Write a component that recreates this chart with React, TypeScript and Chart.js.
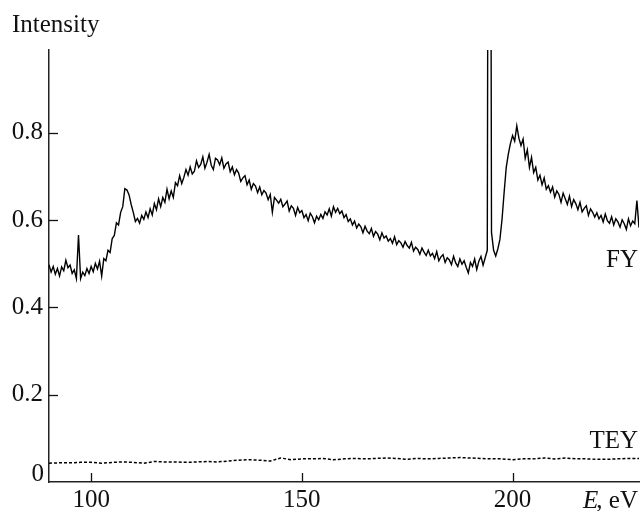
import React, { useEffect, useRef } from "react";
import { Chart, registerables } from "chart.js";

Chart.register(...registerables);

// Energy grid of the FY spectrum (eV)
const FY_START = 90;
const FY_STEP = 0.5;

// FY (fluorescence yield) intensities, one per FY_STEP starting at FY_START
const FY_VALUES = [
  0.498, 0.481, 0.494, 0.476, 0.489, 0.472, 0.493, 0.484, 0.508, 0.491, // 90-94.5
  0.497, 0.478, 0.486, 0.466, 0.566, 0.466, 0.481, 0.473, 0.489, 0.478, // 95-99.5
  0.494, 0.482, 0.501, 0.488, 0.506, 0.472, 0.512, 0.507, 0.531, 0.526, // 100-104.5
  0.558, 0.565, 0.594, 0.589, 0.618, 0.631, 0.672, 0.669, 0.658, 0.636, // 105-109.5
  0.618, 0.597, 0.604, 0.593, 0.611, 0.602, 0.619, 0.606, 0.626, 0.612, // 110-114.5
  0.638, 0.624, 0.649, 0.631, 0.652, 0.641, 0.671, 0.649, 0.667, 0.652, // 115-119.5
  0.686, 0.679, 0.702, 0.684, 0.698, 0.716, 0.703, 0.722, 0.706, 0.712, // 120-124.5
  0.736, 0.721, 0.728, 0.745, 0.719, 0.733, 0.751, 0.726, 0.716, 0.742, // 125-129.5
  0.738, 0.727, 0.743, 0.719, 0.729, 0.733, 0.711, 0.722, 0.704, 0.716, // 130-134.5
  0.708, 0.689, 0.697, 0.702, 0.681, 0.692, 0.671, 0.684, 0.678, 0.663, // 135-139.5
  0.676, 0.658, 0.668, 0.662, 0.647, 0.659, 0.618, 0.652, 0.646, 0.639, // 140-144.5
  0.648, 0.631, 0.637, 0.644, 0.621, 0.633, 0.627, 0.611, 0.629, 0.617, // 145-149.5
  0.622, 0.606, 0.613, 0.599, 0.616, 0.608, 0.594, 0.609, 0.601, 0.613, // 150-154.5
  0.604, 0.619, 0.612, 0.626, 0.609, 0.631, 0.618, 0.627, 0.615, 0.621, // 155-159.5
  0.606, 0.613, 0.597, 0.603, 0.589, 0.598, 0.582, 0.591, 0.585, 0.571, // 160-164.5
  0.586, 0.575, 0.569, 0.581, 0.563, 0.574, 0.568, 0.555, 0.571, 0.559, // 165-169.5
  0.564, 0.552, 0.558, 0.547, 0.562, 0.544, 0.553, 0.548, 0.538, 0.551, // 170-174.5
  0.542, 0.536, 0.549, 0.529, 0.538, 0.533, 0.522, 0.536, 0.527, 0.519, // 175-179.5
  0.531, 0.518, 0.524, 0.512, 0.528, 0.507, 0.516, 0.521, 0.503, 0.514, // 180-184.5
  0.509, 0.498, 0.517, 0.502, 0.494, 0.511, 0.499, 0.507, 0.492, 0.479, // 185-189.5
  0.503, 0.494, 0.511, 0.487, 0.506, 0.517, 0.497, 0.514, 0.531, 3.0,   // 190-194.5
  0.572, 0.531, 0.518, 0.534, 0.556, 0.602, 0.664, 0.721, 0.752, 0.776, // 195-199.5
  0.794, 0.781, 0.816, 0.788, 0.771, 0.786, 0.742, 0.761, 0.721, 0.744, // 200-204.5
  0.709, 0.721, 0.692, 0.703, 0.681, 0.697, 0.671, 0.679, 0.664, 0.676, // 205-209.5
  0.653, 0.667, 0.659, 0.641, 0.662, 0.649, 0.636, 0.655, 0.631, 0.647, // 210-214.5
  0.638, 0.624, 0.641, 0.619, 0.627, 0.633, 0.611, 0.626, 0.618, 0.607, // 215-219.5
  0.617, 0.603, 0.611, 0.596, 0.614, 0.599, 0.593, 0.608, 0.589, 0.603, // 220-224.5
  0.596, 0.584, 0.601, 0.592, 0.579, 0.603, 0.587, 0.598, 0.592, 0.645, // 225-229.5
  0.583, // 230
];

// TEY (total electron yield)
const TEY_ENERGY = [
  90, 92.5, 95, 97.5, 100, 102.5, 105, 107.5, 110, 112.5, 115, 117.5, 120, 122.5,
  125, 127.5, 130, 132.5, 135, 137.5, 140, 142.5, 145, 147.5, 150, 152.5, 155,
  157.5, 160, 162.5, 165, 167.5, 170, 172.5, 175, 177.5, 180, 182.5, 185, 187.5,
  190, 192.5, 195, 197.5, 200, 202.5, 205, 207.5, 210, 212.5, 215, 217.5, 220,
  222.5, 225, 227.5, 230,
];
const TEY_VALUES = [
  0.043, 0.044, 0.044, 0.045, 0.045, 0.043, 0.045, 0.046, 0.045, 0.043, 0.047, 0.046, 0.046, 0.045,
  0.046, 0.047, 0.046, 0.048, 0.05, 0.051, 0.05, 0.048, 0.055, 0.051, 0.053, 0.053, 0.054,
  0.051, 0.053, 0.054, 0.053, 0.054, 0.055, 0.054, 0.052, 0.054, 0.053, 0.054, 0.055, 0.056,
  0.055, 0.054, 0.053, 0.053, 0.051, 0.053, 0.053, 0.055, 0.053, 0.055, 0.053, 0.053, 0.052,
  0.052, 0.053, 0.054, 0.054,
];

const X_TICKS = [100, 150, 200];
const Y_TICKS = [0, 0.2, 0.4, 0.6, 0.8];
const X_MIN = 90;
const X_MAX = 230;
const Y_MIN = 0;
const Y_MAX = 0.99;

const FONT = "'Liberation Serif', 'Times New Roman', serif";
const INK = "#111";

const extrasPlugin = {
  id: "extras",
  afterDraw(chart: any) {
    const { ctx, chartArea, scales } = chart;
    const xs = scales.x;
    const ys = scales.y;
    ctx.save();
    // inward tick marks
    ctx.strokeStyle = INK;
    ctx.lineWidth = 1.3;
    xs.ticks.forEach((t: any) => {
      const px = Math.round(xs.getPixelForValue(t.value)) + 0.5;
      ctx.beginPath();
      ctx.moveTo(px, chartArea.bottom);
      ctx.lineTo(px, chartArea.bottom - 9);
      ctx.stroke();
    });
    ys.ticks.forEach((t: any) => {
      if (t.value === 0) return;
      const py = Math.round(ys.getPixelForValue(t.value)) + 0.5;
      ctx.beginPath();
      ctx.moveTo(chartArea.left, py);
      ctx.lineTo(chartArea.left + 9, py);
      ctx.stroke();
    });
    // texts
    ctx.fillStyle = INK;
    ctx.font = `25px ${FONT}`;
    ctx.textBaseline = "alphabetic";
    ctx.textAlign = "right";
    // the "0" label sits on the axis line in the original
    ctx.fillText("0", chartArea.left - 5, ys.getPixelForValue(0) - 1);
    ctx.textAlign = "left";
    ctx.fillText("Intensity", 12, 32);
    ctx.textAlign = "right";
    ctx.fillText("FY", chartArea.right - 1, ys.getPixelForValue(0.4925));
    ctx.fillText("TEY", chartArea.right - 1, ys.getPixelForValue(0.078));
    // axis title "E, eV"
    const baseY = 508;
    const rightX = chartArea.right - 1;
    const rest = ", eV";
    ctx.fillText(rest, rightX, baseY);
    const w = ctx.measureText(rest).width;
    ctx.font = `italic 25px ${FONT}`;
    ctx.fillText("E", rightX - w + 2, baseY);
    ctx.restore();
  },
};

export default function App() {
  const canvasRef = useRef<HTMLCanvasElement | null>(null);

  useEffect(() => {
    const canvas = canvasRef.current;
    if (!canvas) return;
    const fyData = FY_VALUES.map((v, i) => ({ x: FY_START + i * FY_STEP, y: v }));
    const teyData = TEY_VALUES.map((v, i) => ({ x: TEY_ENERGY[i], y: v }));
    const chart = new Chart(canvas, {
      type: "line",
      data: {
        datasets: [
          {
            label: "FY",
            data: fyData,
            borderColor: "#000",
            borderWidth: 1.4,
            pointRadius: 0,
            tension: 0,
            fill: false,
          },
          {
            label: "TEY",
            data: teyData,
            borderColor: "#000",
            borderWidth: 1.5,
            borderDash: [3, 2],
            pointRadius: 0,
            tension: 0,
            fill: false,
          },
        ],
      },
      options: {
        animation: false,
        responsive: false,
        devicePixelRatio: 1,
        layout: { padding: { top: 50, right: 3, left: 0, bottom: 0 } },
        plugins: {
          legend: { display: false },
          tooltip: { enabled: false },
          title: { display: false },
        },
        scales: {
          x: {
            type: "linear",
            min: X_MIN,
            max: X_MAX,
            afterBuildTicks: (s: any) => {
              s.ticks = X_TICKS.map((v) => ({ value: v }));
            },
            afterFit: (s: any) => {
              s.height = 29;
            },
            grid: { display: false, drawTicks: false },
            border: { display: true, color: "#222", width: 1.5 },
            ticks: {
              autoSkip: false,
              maxRotation: 0,
              padding: 3,
              color: INK,
              font: { family: FONT, size: 25 },
              callback: (v: any) => String(v),
            },
          },
          y: {
            type: "linear",
            min: Y_MIN,
            max: Y_MAX,
            afterBuildTicks: (s: any) => {
              s.ticks = Y_TICKS.map((v) => ({ value: v }));
            },
            afterFit: (s: any) => {
              s.width = 49;
            },
            grid: { display: false, drawTicks: false },
            border: { display: true, color: "#222", width: 1.5 },
            ticks: {
              autoSkip: false,
              padding: 6,
              color: INK,
              font: { family: FONT, size: 25 },
              callback: (v: any) => (v === 0 ? "" : Number(v).toFixed(1)),
            },
          },
        },
      },
      plugins: [extrasPlugin],
    });
    return () => chart.destroy();
  }, []);

  return (
    <div
      style={{
        position: "fixed",
        left: 0,
        top: 0,
        width: 642,
        height: 511,
        background: "#fff",
      }}
    >
      <canvas ref={canvasRef} width={642} height={511} style={{ width: 642, height: 511, display: "block" }} />
    </div>
  );
}
